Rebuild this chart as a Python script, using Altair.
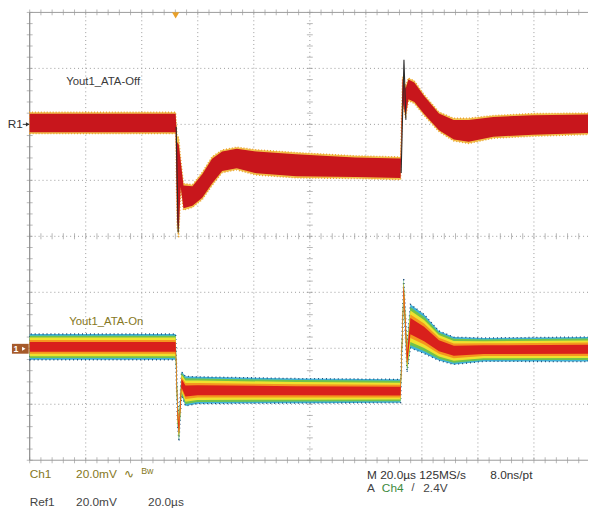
import altair as alt
import pandas as pd

# ---------------- data (time in µs, voltage in mV relative to each trace marker) ----------------
# Trace 1: Yout1_ATA-Off  (centre of the trace band, and half-spread of the band)
t1_time = [0, 52.1, 52.6, 53.2, 53.9, 54.9, 58.1, 61.6, 65.1, 68.7, 73.9, 81.0, 95.1, 116.2,
           132.4, 133.1, 134.2, 135.2, 137.3, 140.8, 146.1, 151.4, 156.7, 165.5, 179.6, 199.3]
t1_mv = [0.5, 0.5, -20.3, -22.7, -17.8, -25.9, -25.6, -22.0, -16.7, -13.2, -12.2, -13.6, -14.6, -15.3,
         -15.7, 12.2, 7.9, 12.5, 11.5, 6.9, 0.9, -1.9, -2.3, -0.9, -0.2, 0.2]
t1_spread = [3.3, 3.3, 14.0, 15.5, 4.6, 4.1, 3.5, 4.2, 4.4, 3.5, 3.5, 3.9, 3.9, 3.5,
             3.5, 4.2, 4.9, 3.5, 3.5, 3.2, 3.0, 3.5, 3.9, 3.5, 3.5, 3.3]

# thin dark edges at the two transitions of trace 1
edge_seg = ["fall", "fall", "rise", "rise", "rise"]
edge_time = [52.3, 53.0, 132.6, 133.6, 134.3]
edge_mv = [-0.9, -38.6, -17.4, 23.1, 1.6]

# Trace 2: Yout1_ATA-On
t2_time = [0, 52.1, 52.8, 53.3, 54.2, 55.6, 59.9, 95.1, 132.4, 133.5, 134.7, 135.9, 140.8,
           146.1, 151.4, 162.0, 199.3]
t2_mv = [0.5, 0.5, -23.1, -29.1, -12.5, -15.3, -15.0, -15.2, -15.3, 21.0, -3.7, 7.9, 5.1,
         0.9, -0.9, -0.5, -0.35]
t2_spread = [4.6, 4.6, 4.9, 4.2, 4.2, 5.3, 4.8, 4.4, 4.2, 4.2, 4.9, 7.8, 7.0,
             5.3, 4.9, 4.2, 4.4]

# trace marker positions (mV on screen, 20 mV/div) and trigger time
r1_level = 40
ch1_level = -40
trigger_time = 52.1

# graticule
major_t = [20, 40, 60, 80, 100, 120, 140, 160, 180]
major_v = [-60, -40, -20, 0, 20, 40, 60]
minor_t = [4 * i for i in range(50)]
minor_v = [-80 + 4 * i for i in range(41)]

W, H = 566, 454
FONT = "Liberation Sans"

xs = alt.Scale(domain=[0, 199.3], nice=False, zero=False)
ys = alt.Scale(domain=[-80, 80], nice=False, zero=False)
X = lambda f: alt.X(f, scale=xs, axis=None)
Y = lambda f: alt.Y(f, scale=ys, axis=None)

df1 = pd.DataFrame({"t": t1_time, "c": [v + r1_level for v in t1_mv], "s": t1_spread})
df2 = pd.DataFrame({"t": t2_time, "c": [v + ch1_level for v in t2_mv], "s": t2_spread})
dfe = pd.DataFrame({"seg": edge_seg, "t": edge_time, "v": [v + r1_level for v in edge_mv]})

GRID = "#9a9a9a"

# grid lines
grid_x = alt.Chart(pd.DataFrame({"t": major_t})).mark_rule(
    color=GRID, strokeWidth=1, strokeDash=[1, 3]).encode(x=X("t:Q"))
grid_y = alt.Chart(pd.DataFrame({"v": major_v})).mark_rule(
    color=GRID, strokeWidth=1, strokeDash=[1, 3]).encode(y=Y("v:Q"))

# borders (left, top, bottom)
border_l = alt.Chart(pd.DataFrame({"t": [0]})).mark_rule(color="#8a8a8a", strokeWidth=1.2).encode(x=X("t:Q"))
border_tb = alt.Chart(pd.DataFrame({"v": [-80, 80]})).mark_rule(color="#9a9a9a", strokeWidth=1).encode(y=Y("v:Q"))

# minor ticks
ht = pd.DataFrame([{"t": t, "v": lvl} for lvl in [80, -80, 0] for t in minor_t])
vt = pd.DataFrame([{"t": pos, "v": v} for pos in [0, 100] for v in minor_v])
ticks_h = alt.Chart(ht).mark_tick(color=GRID, orient="vertical", size=6, thickness=1).encode(
    x=X("t:Q"), y=Y("v:Q"))
ticks_v = alt.Chart(vt).mark_tick(color=GRID, orient="horizontal", size=6, thickness=1).encode(
    x=X("t:Q"), y=Y("v:Q"))


def band(df, factor, color, **kw):
    return alt.Chart(df).transform_calculate(
        lo=f"datum.c - datum.s * {factor}", hi=f"datum.c + datum.s * {factor}"
    ).mark_area(color=color, **kw).encode(
        x=X("t:Q"), y=Y("lo:Q"), y2="hi:Q")


# trace 1: red persistence band with yellow/orange fringe
tr1 = [
    band(df1, 1.16, "#f3c24a", stroke="#e9a030", strokeWidth=1.4, strokeDash=[1, 2]),
    band(df1, 1.0, "#c8161c"),
]
edges = alt.Chart(dfe).mark_line(color="#2a2a2a", strokeWidth=1.1).encode(
    x=X("t:Q"), y=Y("v:Q"), detail="seg:N")

# trace 2: colour-graded persistence
grades = [(1.0, "#3fb2d8"), (0.87, "#72c24a"), (0.72, "#efe12e"), (0.54, "#f5961e"), (0.37, "#d9201c")]
tr2 = [band(df2, 1.0, "#3fb2d8", stroke="#1e4a78", strokeWidth=1.3, strokeDash=[1, 3])]
tr2 += [band(df2, f, c) for f, c in grades[1:]]

OLIVE = "#857722"
lab_rows = [
    ("Yout1_ATA-Off", 37, 71, "#3a3a3a", 11.5, "left"),
    ("Yout1_ATA-On", 40, 314, OLIVE, 11.5, "left"),
    ("Ch1", 0, 468, OLIVE, 12, "left"),
    ("20.0mV", 47, 468, OLIVE, 12, "left"),
    ("∿", 96, 468, OLIVE, 12, "left"),
    ("Bw", 113, 465, OLIVE, 9, "left"),
    ("Ref1", 0, 496, "#444444", 12, "left"),
    ("20.0mV", 47, 496, "#444444", 12, "left"),
    ("20.0µs", 120, 496, "#444444", 12, "left"),
    ("M 20.0µs 125MS/s", 342, 469, "#333333", 12, "left"),
    ("8.0ns/pt", 467, 469, "#333333", 12, "left"),
    ("A", 342, 482, "#444444", 12, "left"),
    ("Ch4", 357, 482, "#3d8a3d", 12, "left"),
    ("/", 387, 482, "#444444", 11, "left"),
    ("2.4V", 399, 482, "#444444", 12, "left"),
    ("R1", -7, 113.5, "#333333", 12, "right"),
]
labels = []
for s, x, y, col, size, al in lab_rows:
    labels.append(alt.Chart(pd.DataFrame({"s": [s]})).mark_text(
        font=FONT, fontSize=size, color=col, align=al, baseline="middle"
    ).encode(text="s:N", x=alt.value(x), y=alt.value(y)))

# R1 marker arrow
r1df = pd.DataFrame({"v": [r1_level]})
r1_arrow = alt.Chart(r1df).mark_rule(color="#333333", strokeWidth=1).encode(
    y=Y("v:Q"), x=alt.value(-7), x2=alt.value(-1))
r1_head = alt.Chart(r1df).mark_point(
    shape="triangle-right", filled=True, color="#333333", size=18, opacity=1).encode(
    y=Y("v:Q"), x=alt.value(-2))

# channel 1 marker box
c1df = pd.DataFrame({"v": [ch1_level], "s": ["1"]})
ch1_box = alt.Chart(c1df).mark_rect(color="#a65a2a").encode(
    x=alt.value(-18), x2=alt.value(-1), y=alt.value(336), y2=alt.value(346))
ch1_num = alt.Chart(c1df).mark_text(
    font=FONT, fontSize=9, color="white", align="center", baseline="middle", fontWeight="bold"
).encode(text="s:N", x=alt.value(-14), y=alt.value(341))
ch1_head = alt.Chart(c1df).mark_point(
    shape="triangle-right", filled=True, color="white", size=16, opacity=1).encode(
    y=alt.value(341), x=alt.value(-6))

# trigger position marker
trig = alt.Chart(pd.DataFrame({"t": [trigger_time]})).mark_point(
    shape="triangle-down", filled=True, color="#e8a02a", size=55, opacity=1).encode(
    x=X("t:Q"), y=alt.value(3))

chart = alt.layer(
    grid_x, grid_y, ticks_h, ticks_v, border_l, border_tb,
    *tr1, edges, *tr2,
    *labels, r1_arrow, r1_head, ch1_box, ch1_num, ch1_head, trig,
).properties(
    width=W, height=H,
    autosize=alt.AutoSizeParams(type="none"),
    padding={"left": 22, "top": 1, "right": 0, "bottom": 48},
    background="white",
).configure_view(stroke=None)

chart.save("out.html", embed_options={"renderer": "svg", "actions": False})
